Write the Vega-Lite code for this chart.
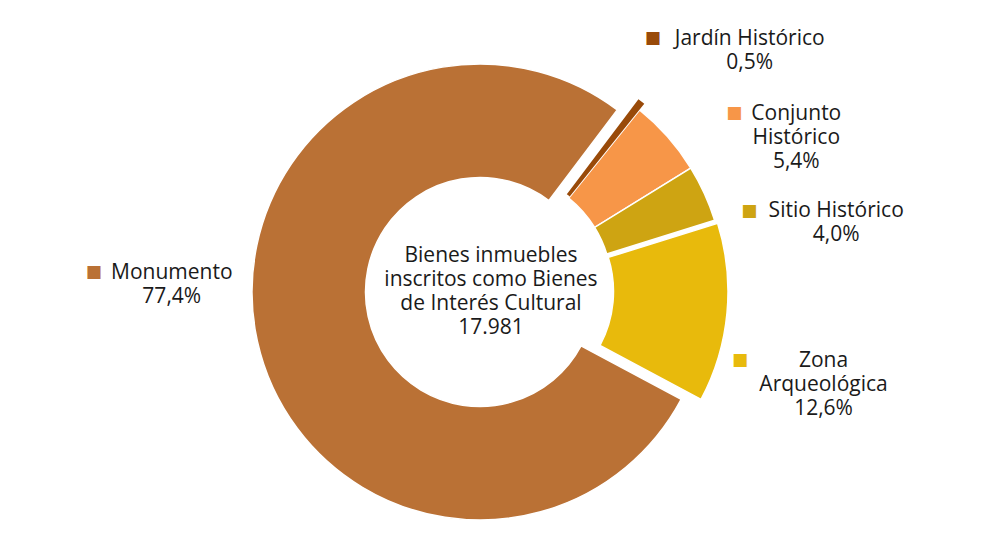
{
  "$schema": "https://vega.github.io/schema/vega-lite/v6.json",
  "width": 992,
  "height": 517,
  "padding": {"left": 0, "top": 28, "right": 13, "bottom": 0},
  "background": "white",
  "config": {
    "view": {"stroke": null},
    "text": {"font": "Open Sans", "fontSize": 21}
  },
  "data": {
    "values": [
      {"tipo": "Jardín Histórico", "pct": 0.5, "orden": 1, "etiqueta": ["Jardín Histórico", "0,5%"]},
      {"tipo": "Conjunto Histórico", "pct": 5.4, "orden": 2, "etiqueta": ["Conjunto", "Histórico", "5,4%"]},
      {"tipo": "Sitio Histórico", "pct": 4.0, "orden": 3, "etiqueta": ["Sitio Histórico", "4,0%"]},
      {"tipo": "Zona Arqueológica", "pct": 12.6, "orden": 4, "etiqueta": ["Zona", "Arqueológica", "12,6%"]},
      {"tipo": "Monumento", "pct": 77.4, "orden": 5, "etiqueta": ["Monumento", "77,4%"]}
    ]
  },
  "transform": [
    {"stack": "pct", "groupby": [], "sort": [{"field": "orden", "order": "ascending"}], "as": ["t0", "t1"]},
    {"calculate": "(datum.t0 + datum.t1) / 2", "as": "tm"}
  ],
  "encoding": {
    "color": {
      "field": "tipo",
      "type": "nominal",
      "scale": {
        "domain": ["Jardín Histórico", "Conjunto Histórico", "Sitio Histórico", "Zona Arqueológica", "Monumento"],
        "range": ["#994A09", "#F79648", "#CEA412", "#E8BA0C", "#BA7135"]
      },
      "legend": null
    }
  },
  "layer": [
    {
      "transform": [{"filter": "datum.tipo == 'Monumento'"}],
      "mark": {"type": "arc", "radius": 228, "radius2": 114.5, "stroke": "white", "strokeWidth": 1.5, "xOffset": -16, "yOffset": 3.5},
      "encoding": {
        "theta": {"field": "t0", "type": "quantitative", "stack": null, "scale": {"domain": [0, 99.9], "range": [0.6458, 6.929]}},
        "theta2": {"field": "t1"}
      }
    },
    {
      "transform": [{"filter": "datum.tipo == 'Conjunto Histórico' || datum.tipo == 'Sitio Histórico'"}],
      "mark": {"type": "arc", "radius": 229, "radius2": 116, "stroke": "white", "strokeWidth": 1.5},
      "encoding": {
        "theta": {"field": "t0", "type": "quantitative", "stack": null, "scale": {"domain": [0, 99.9], "range": [0.6458, 6.929]}},
        "theta2": {"field": "t1"}
      }
    },
    {
      "transform": [{"filter": "datum.tipo == 'Jardín Histórico'"}],
      "mark": {"type": "arc", "radius": 235, "radius2": 116, "xOffset": 1, "yOffset": -1.5},
      "encoding": {
        "theta": {"field": "t0", "type": "quantitative", "stack": null, "scale": {"domain": [0, 99.9], "range": [0.6458, 6.929]}},
        "theta2": {"field": "t1"}
      }
    },
    {
      "transform": [{"filter": "datum.tipo == 'Zona Arqueológica'"}],
      "mark": {"type": "arc", "radius": 229, "radius2": 114.5, "stroke": "white", "strokeWidth": 1.5, "xOffset": 3, "yOffset": 3},
      "encoding": {
        "theta": {"field": "t0", "type": "quantitative", "stack": null, "scale": {"domain": [0, 99.9], "range": [0.6458, 6.929]}},
        "theta2": {"field": "t1"}
      }
    },
    {
      "transform": [{"filter": "datum.tipo == 'Jardín Histórico'"}],
      "encoding": {
        "theta": {"field": "tm", "type": "quantitative", "stack": null, "scale": {"domain": [0, 99.9], "range": [0.6458, 6.929]}}
      },
      "layer": [
        {
          "mark": {"type": "text", "radius": 330, "align": "center", "baseline": "alphabetic", "lineHeight": 24, "dx": 51, "dy": 17},
          "encoding": {"text": {"field": "etiqueta"}, "color": {"value": "#1a1a1a"}}
        },
        {
          "mark": {"type": "text", "radius": 330, "font": "DejaVu Sans", "fontSize": 17, "align": "center", "baseline": "middle", "dx": -46, "dy": 10},
          "encoding": {"text": {"value": "■"}}
        }
      ]
    },
    {
      "transform": [{"filter": "datum.tipo == 'Conjunto Histórico'"}],
      "encoding": {
        "theta": {"field": "tm", "type": "quantitative", "stack": null, "scale": {"domain": [0, 99.9], "range": [0.6458, 6.929]}}
      },
      "layer": [
        {
          "mark": {"type": "text", "radius": 330, "align": "center", "baseline": "alphabetic", "lineHeight": 24, "dx": 53, "dy": 50},
          "encoding": {"text": {"field": "etiqueta"}, "color": {"value": "#1a1a1a"}}
        },
        {
          "mark": {"type": "text", "radius": 330, "font": "DejaVu Sans", "fontSize": 17, "align": "center", "baseline": "middle", "dx": -9, "dy": 43},
          "encoding": {"text": {"value": "■"}}
        }
      ]
    },
    {
      "transform": [{"filter": "datum.tipo == 'Sitio Histórico'"}],
      "encoding": {
        "theta": {"field": "tm", "type": "quantitative", "stack": null, "scale": {"domain": [0, 99.9], "range": [0.6458, 6.929]}}
      },
      "layer": [
        {
          "mark": {"type": "text", "radius": 330, "align": "center", "baseline": "alphabetic", "lineHeight": 24, "dx": 40, "dy": 65.5},
          "encoding": {"text": {"field": "etiqueta"}, "color": {"value": "#1a1a1a"}}
        },
        {
          "mark": {"type": "text", "radius": 330, "font": "DejaVu Sans", "fontSize": 17, "align": "center", "baseline": "middle", "dx": -47, "dy": 59.5},
          "encoding": {"text": {"value": "■"}}
        }
      ]
    },
    {
      "transform": [{"filter": "datum.tipo == 'Zona Arqueológica'"}],
      "encoding": {
        "theta": {"field": "tm", "type": "quantitative", "stack": null, "scale": {"domain": [0, 99.9], "range": [0.6458, 6.929]}}
      },
      "layer": [
        {
          "mark": {"type": "text", "radius": 330, "align": "center", "baseline": "alphabetic", "lineHeight": 24, "dx": -1, "dy": 47.5},
          "encoding": {"text": {"field": "etiqueta"}, "color": {"value": "#1a1a1a"}}
        },
        {
          "mark": {"type": "text", "radius": 330, "font": "DejaVu Sans", "fontSize": 17, "align": "center", "baseline": "middle", "dx": -84.5, "dy": 40.5},
          "encoding": {"text": {"value": "■"}}
        }
      ]
    },
    {
      "transform": [{"filter": "datum.tipo == 'Monumento'"}],
      "encoding": {
        "theta": {"field": "tm", "type": "quantitative", "stack": null, "scale": {"domain": [0, 99.9], "range": [0.6458, 6.929]}}
      },
      "layer": [
        {
          "mark": {"type": "text", "radius": 330, "align": "center", "baseline": "alphabetic", "lineHeight": 24, "dx": -2, "dy": -80.5},
          "encoding": {"text": {"field": "etiqueta"}, "color": {"value": "#1a1a1a"}}
        },
        {
          "mark": {"type": "text", "radius": 330, "font": "DejaVu Sans", "fontSize": 17, "align": "center", "baseline": "middle", "dx": -80, "dy": -87.5},
          "encoding": {"text": {"value": "■"}}
        }
      ]
    },
    {
      "transform": [{"filter": "datum.tipo == 'Monumento'"}],
      "mark": {"type": "text", "align": "center", "baseline": "alphabetic", "lineHeight": 24, "dx": -5, "dy": -26.5},
      "encoding": {
        "text": {"value": ["Bienes inmuebles", "inscritos como Bienes", "de Interés Cultural", "17.981"]},
        "color": {"value": "#1a1a1a"}
      }
    }
  ]
}
